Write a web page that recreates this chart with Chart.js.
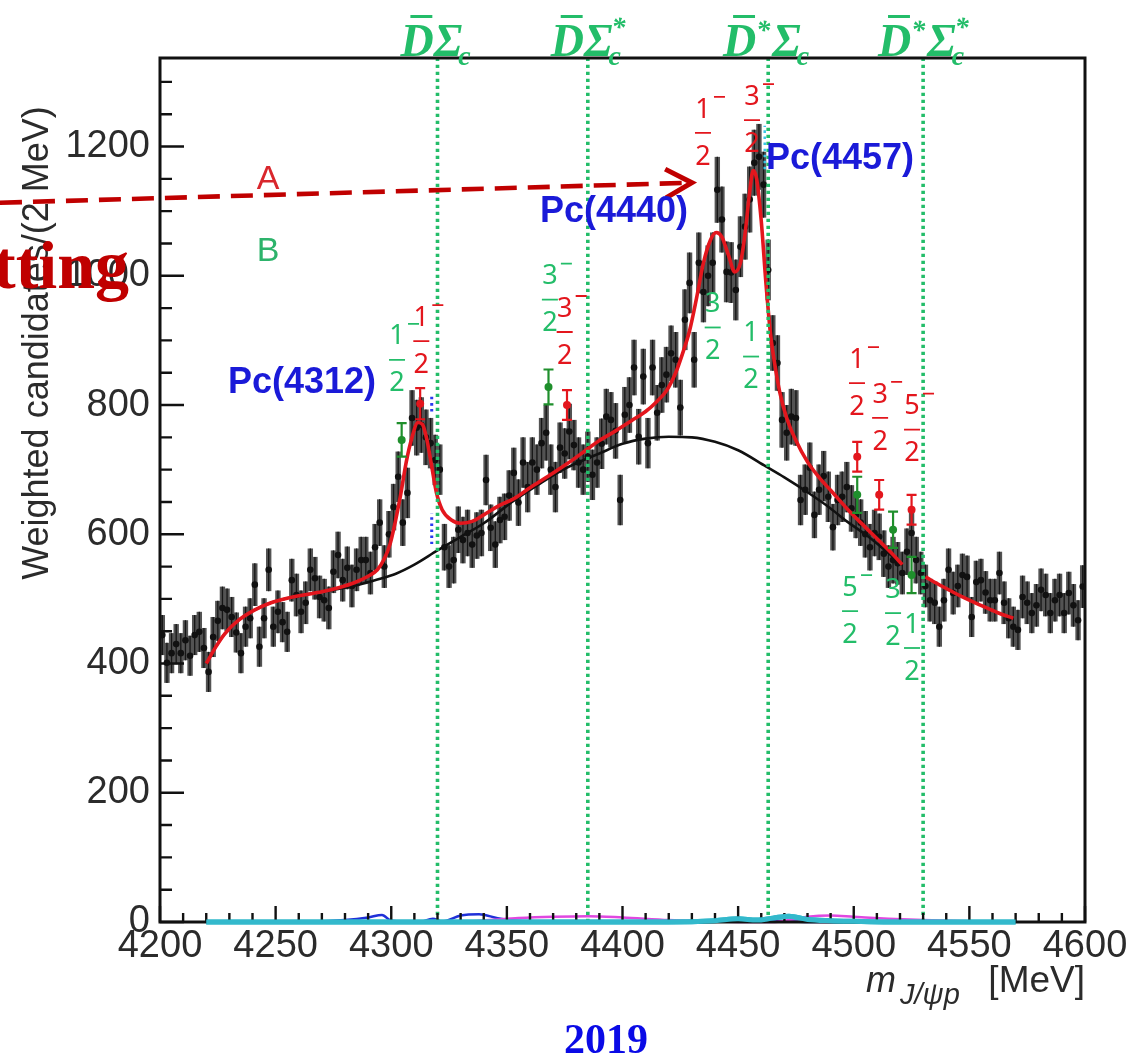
<!DOCTYPE html>
<html lang="en">
<head>
<meta charset="UTF-8">
<title>J/ψp invariant mass – Pc states</title>
<script src="https://cdn.jsdelivr.net/npm/chart.js"></script>
<style>
  html, body { margin: 0; padding: 0; background: #fff; }
  #wrap { position: relative; width: 1137px; height: 1055px; }
</style>
</head>
<body>
<div id="wrap"><canvas id="spectrum" width="1137" height="1055"></canvas></div>
<script>
// 2 MeV bins, 4200 - 4600 MeV
const massBins = Array.from({ length: 200 }, (_, i) => 4201 + 2 * i);

// weighted candidates per bin
const counts = [
  444, 401, 416, 430, 416, 436, 412, 444, 449, 424,
  387, 441, 466, 486, 483, 472, 448, 416, 457, 470,
  522, 426, 470, 545, 457, 480, 464, 449, 529, 506,
  480, 494, 545, 532, 503, 498, 486, 542, 568, 529,
  548, 520, 545, 560, 560, 540, 580, 618, 550, 600,
  642, 689, 618, 664, 780, 765, 769, 750, 741, 715,
  700, 580, 550, 560, 607, 591, 602, 584, 598, 602,
  684, 610, 584, 622, 627, 660, 695, 649, 711, 673,
  711, 700, 741, 757, 700, 673, 734, 725, 759, 738,
  711, 700, 720, 692, 711, 740, 782, 777, 760, 653,
  785, 800, 858, 751, 844, 741, 858, 788, 831, 847,
  880, 870, 796, 932, 989, 870, 1020, 975, 1000, 1020,
  1133, 1087, 1006, 1005, 978, 1045, 1076, 1118, 1175, 1184,
  1141, 1009, 896, 865, 777, 757, 782, 780, 653, 669,
  703, 630, 669, 690, 658, 611, 653, 658, 673, 640,
  630, 618, 600, 580, 602, 596, 570, 550, 560, 555,
  540, 573, 602, 560, 540, 520, 498, 494, 457, 498,
  545, 509, 520, 537, 534, 472, 526, 529, 510, 498,
  498, 540, 494, 470, 457, 452, 503, 494, 478, 490,
  514, 506, 478, 498, 506, 478, 509, 490, 467, 519
];

// statistical uncertainty per bin
const countErr = [
  31, 31, 31, 31, 31, 31, 31, 31, 31, 31,
  31, 31, 31, 33, 33, 31, 31, 31, 31, 31,
  33, 31, 31, 33, 31, 33, 31, 31, 33, 33,
  33, 33, 33, 33, 33, 33, 33, 33, 36, 33,
  33, 33, 33, 36, 36, 33, 36, 36, 33, 36,
  36, 39, 36, 39, 43, 43, 43, 43, 39, 39,
  39, 36, 33, 36, 36, 36, 36, 36, 36, 36,
  39, 36, 36, 36, 36, 39, 39, 36, 39, 39,
  39, 39, 39, 43, 39, 39, 39, 39, 43, 39,
  39, 39, 39, 39, 39, 39, 43, 43, 43, 39,
  43, 43, 43, 43, 43, 39, 43, 43, 43, 43,
  43, 43, 43, 47, 47, 43, 47, 47, 47, 47,
  51, 51, 47, 47, 47, 47, 51, 51, 51, 51,
  51, 47, 43, 43, 43, 43, 43, 43, 39, 39,
  39, 36, 39, 39, 39, 36, 39, 39, 39, 36,
  36, 36, 36, 36, 36, 36, 36, 33, 36, 33,
  33, 36, 36, 36, 33, 33, 33, 33, 31, 33,
  33, 33, 33, 33, 33, 31, 33, 33, 33, 33,
  33, 33, 33, 31, 31, 31, 33, 33, 31, 33,
  33, 33, 31, 33, 33, 31, 33, 33, 31, 33
];

// full fit (red)
const fitMass = [4220, 4224, 4228, 4234, 4241, 4248, 4255, 4262, 4270, 4278,
  4284, 4290, 4294, 4297, 4299.5, 4301.5, 4304, 4306.5, 4309, 4311.5,
  4313.5, 4315.5, 4317.5, 4319.5, 4322, 4326, 4330, 4335, 4340, 4347,
  4353, 4360, 4368, 4376, 4383, 4390, 4397, 4404, 4410, 4415,
  4419, 4423, 4426, 4429, 4432, 4435, 4438, 4440.5, 4443, 4446,
  4448.5, 4451, 4453, 4455, 4456.5, 4458, 4460, 4462, 4464, 4466,
  4468, 4471, 4475, 4480, 4485, 4490, 4497, 4503, 4511, 4516, 4521];
const fitVals = [400, 425, 446, 467, 483, 494, 501, 506, 511, 518,
  525, 535, 545, 562, 585, 615, 660, 712, 750, 773,
  770, 745, 705, 665, 638, 622, 617, 620, 630, 645,
  655, 672, 690, 709, 727, 745, 760, 776, 790, 806,
  822, 850, 880, 915, 965, 1020, 1055, 1067, 1060, 1030,
  1006, 1020, 1065, 1130, 1163, 1150, 1085, 990, 910, 860,
  820, 780, 745, 712, 688, 668, 640, 618, 590, 572, 553];
const fitTailMass = [4531, 4538, 4547, 4555, 4562, 4569];
const fitTailVals = [534, 520, 503, 490, 479, 470];

// background component (black)
const bkgMass = [4220, 4224, 4228, 4234, 4241, 4248, 4255, 4262, 4270, 4278,
  4286, 4294, 4302, 4310, 4320, 4330, 4340, 4353, 4365, 4376,
  4390, 4400, 4410, 4420, 4430, 4440, 4450, 4462, 4470, 4480,
  4490, 4497, 4505, 4512, 4521];
const bkgVals = [400, 425, 446, 467, 483, 494, 501, 506, 511, 516,
  522, 530, 539, 553, 575, 596, 617, 652, 680, 703,
  725, 740, 748, 751, 750, 743, 730, 705, 688, 665,
  640, 620, 600, 580, 553];

// small signal components along the bottom
const compMass = [4220, 4260, 4280, 4290, 4296, 4300, 4312, 4318, 4322, 4330,
  4338, 4346, 4355, 4370, 4385, 4400, 4420, 4440, 4450, 4458,
  4465, 4472, 4480, 4490, 4500, 4515, 4530, 4550, 4570];
const compCyan = [0, 0, 0, 0, 0, 0, 0, 0, 0, 0, 0, 0, 0, 0, 0, 0, 0,
  2, 5, 3, 6, 9, 4, 2, 1, 0, 0, 0, 0];
const compBlue = [0, 0, 3, 7, 11, 2, 0, 5, 1, 10, 12, 6, 2, 1, 0, 0, 1,
  2, 3, 4, 2, 1, 0, 0, 0, 0, 0, 0, 0];
const compMagenta = [0, 0, 0, 0, 0, 0, 0, 0, 0, 0, 2, 4, 6, 8, 9, 7, 3,
  1, 0, 0, 0, 3, 8, 10, 8, 5, 3, 1, 0];

// open-charm thresholds: D̄Σc, D̄Σc*, D̄*Σc, D̄*Σc*
const thresholdMass = [4320, 4385, 4463, 4530];
const thresholdStars = [[false, false], [false, true], [true, false], [true, true]];

// predicted masses, scheme A (red) and scheme B (green)
const predMassA = [4312.5, 4376, 4501.5, 4511, 4525];
const predValA = [802, 800, 720, 661, 638];
const predErrA = [24, 23, 23, 23, 23];
const predMassB = [4304.5, 4368, 4501.5, 4517, 4525];
const predValB = [746, 828, 661, 607, 537];
const predErrB = [26, 27, 28, 28, 28];

// J^P labels: [mass, value at fraction bar, numerator, shows minus]
const spinA = [[4313, 899, '1', true], [4375, 913, '3', true], [4434.8, 1221, '1', true],
  [4456, 1241, '3', true], [4501.4, 834, '1', true], [4511.4, 780, '3', true], [4525.2, 762, '5', true]];
const spinB = [[4302.5, 870, '1', true], [4368.6, 963, '3', true], [4439, 920, '3', false],
  [4455.6, 875, '1', false], [4498.4, 481, '5', true], [4517, 478, '3', false], [4525.2, 424, '1', false]];

// state names: [text, left mass, centre value]
const stateNames = [['Pc(4312)', 4229.4, 834], ['Pc(4440)', 4364.3, 1098], ['Pc(4457)', 4462, 1180]];

const RED = '#e3161d';
const GREEN = '#23bd69';
const DARK_GREEN = '#1f8f2c';
const BLUE = '#1a1ad8';
const DARK_RED = '#c00000';
const TEXT = '#2b2b2b';

const pts = (xs, ys) => xs.map((m, i) => ({ x: m, y: ys[i] }));

function lineSet(label, xs, ys, color, width, order, extra) {
  return Object.assign({
    type: 'line', label, data: pts(xs, ys), borderColor: color, borderWidth: width,
    pointRadius: 0, fill: false, cubicInterpolationMode: 'monotone', order
  }, extra || {});
}

const datasets = [
  lineSet('fit', fitMass, fitVals, RED, 3.6, 1),
  lineSet('fit tail', fitTailMass, fitTailVals, RED, 3.6, 1),
  lineSet('background', bkgMass, bkgVals, '#111', 2.6, 2),
  {
    type: 'scatter', label: 'data', data: pts(massBins, counts),
    pointRadius: 3.3, backgroundColor: '#111', borderWidth: 0, order: 3
  },
  lineSet('cyan', compMass, compCyan, '#33b9cc', 5, 4, { clip: false }),
  lineSet('magenta', compMass, compMagenta, '#e048e0', 2.5, 4, { clip: false }),
  lineSet('blue', compMass, compBlue, '#2030d8', 2.5, 4, { clip: false }),
  lineSet('blue marks', [4317.5, 4317.5], [790, 818], '#2a3af0', 3, 0, { borderDash: [2.5, 3.5] }),
  lineSet('blue marks 2', [4317.5, 4317.5], [585, 632], '#2a3af0', 3, 0, { borderDash: [2.5, 3.5] }),
  lineSet('cyan marks', [4461.5, 4461.5], [1165, 1232], '#39c6e6', 2.5, 0, { borderDash: [2.5, 3.5] })
];
thresholdMass.forEach((m, i) => {
  datasets.push(lineSet('threshold ' + i, [m, m], [0, 1337], GREEN, 3.6, 0,
    { borderDash: [3.2, 3.8], cubicInterpolationMode: 'default' }));
});

function drawErrorPoints(ctx, x, y, ms, vs, es, color) {
  ctx.strokeStyle = color;
  ctx.fillStyle = color;
  ctx.lineWidth = 2.2;
  ms.forEach((m, i) => {
    const px = x.getPixelForValue(m);
    const top = y.getPixelForValue(vs[i] + es[i]);
    const bot = y.getPixelForValue(vs[i] - es[i]);
    ctx.beginPath();
    ctx.moveTo(px, top); ctx.lineTo(px, bot);
    ctx.moveTo(px - 5, top); ctx.lineTo(px + 5, top);
    ctx.moveTo(px - 5, bot); ctx.lineTo(px + 5, bot);
    ctx.stroke();
    ctx.beginPath();
    ctx.arc(px, y.getPixelForValue(vs[i]), 4, 0, Math.PI * 2);
    ctx.fill();
  });
}

function drawFraction(ctx, cx, cy, num, minus, color) {
  ctx.fillStyle = color;
  ctx.strokeStyle = color;
  ctx.font = '27px "Noto Sans", "DejaVu Sans", sans-serif';
  ctx.textAlign = 'center';
  ctx.textBaseline = 'middle';
  ctx.fillText(num, cx, cy - 23);
  ctx.fillText('2', cx, cy + 24);
  ctx.lineWidth = 1.8;
  ctx.beginPath();
  ctx.moveTo(cx - 8, cy); ctx.lineTo(cx + 8, cy);
  if (minus) { ctx.moveTo(cx + 11, cy - 36); ctx.lineTo(cx + 22, cy - 36); }
  ctx.stroke();
}

function drawThresholdName(ctx, cx, base, dStar, sStar) {
  const big = 'italic bold 46px "Liberation Serif", serif';
  const small = 'italic bold 28px "Liberation Serif", serif';
  ctx.font = big;
  const wD = ctx.measureText('D').width;
  const wS = ctx.measureText('Σ').width;
  ctx.font = small;
  const wStar = ctx.measureText('*').width;
  const wc = ctx.measureText('c').width;
  let px = cx - (wD + (dStar ? wStar + 2 : 0) + wS + wc) / 2;
  ctx.fillStyle = GREEN;
  ctx.textAlign = 'left';
  ctx.textBaseline = 'alphabetic';
  ctx.font = big;
  ctx.fillText('D', px, base);
  ctx.fillRect(px + wD * 0.3, base - 41, wD * 0.66, 3);
  px += wD;
  if (dStar) {
    ctx.font = small;
    ctx.fillText('*', px, base - 17);
    px += wStar + 2;
  }
  ctx.font = big;
  ctx.fillText('Σ', px, base);
  px += wS;
  ctx.font = small;
  ctx.fillText('c', px - 4, base + 9);
  if (sStar) ctx.fillText('*', px - 1, base - 20);
}

const decor = {
  id: 'spectrumDecor',
  beforeDatasetsDraw(chart) {
    const { ctx, chartArea: a, scales: { x, y } } = chart;
    ctx.save();
    ctx.beginPath();
    ctx.rect(a.left, a.top, a.right - a.left, a.bottom - a.top);
    ctx.clip();
    // grey error bars of the data
    counts.forEach((v, i) => {
      const px = x.getPixelForValue(massBins[i]);
      const y1 = y.getPixelForValue(v + countErr[i]);
      const y2 = y.getPixelForValue(v - countErr[i]);
      ctx.fillStyle = '#535353';
      ctx.fillRect(px - 2.7, y1, 5.4, y2 - y1);
      ctx.strokeStyle = '#161616';
      ctx.lineWidth = 1.3;
      ctx.beginPath();
      ctx.moveTo(px, y1); ctx.lineTo(px, y2);
      ctx.stroke();
    });
    ctx.restore();
  },
  afterDatasetsDraw(chart) {
    const { ctx, chartArea: a, scales: { x, y } } = chart;
    ctx.save();
    // frame and inward ticks
    ctx.strokeStyle = '#111';
    ctx.lineWidth = 3;
    ctx.strokeRect(a.left, a.top, a.right - a.left, a.bottom - a.top);
    ctx.lineWidth = 2.4;
    ctx.beginPath();
    for (let v = 0; v <= 1300; v += 50) {
      const py = y.getPixelForValue(v);
      ctx.moveTo(a.left, py);
      ctx.lineTo(a.left + (v % 200 === 0 ? 24 : 12), py);
    }
    for (let m = 4200; m <= 4600; m += 10) {
      const px = x.getPixelForValue(m);
      ctx.moveTo(px, a.bottom);
      ctx.lineTo(px, a.bottom - (m % 50 === 0 ? 16 : 9));
    }
    ctx.stroke();
    // redraw the cyan component over the axis line
    const cyanMeta = chart.getDatasetMeta(4);
    if (cyanMeta && cyanMeta.dataset) cyanMeta.dataset.draw(ctx, a);

    drawErrorPoints(ctx, x, y, predMassB, predValB, predErrB, DARK_GREEN);
    drawErrorPoints(ctx, x, y, predMassA, predValA, predErrA, RED);
    ctx.restore();
  },
  afterDraw(chart) {
    const { ctx, scales: { x, y } } = chart;
    ctx.save();

    // y axis title
    ctx.save();
    ctx.translate(38, 343);
    ctx.rotate(-Math.PI / 2);
    ctx.font = '36px "Liberation Sans", Arial, sans-serif';
    ctx.fillStyle = TEXT;
    ctx.textAlign = 'center';
    ctx.textBaseline = 'middle';
    ctx.fillText('Weighted candidates/(2 MeV)', 0, 0);
    ctx.restore();

    // x axis title
    ctx.fillStyle = TEXT;
    ctx.textBaseline = 'alphabetic';
    ctx.textAlign = 'left';
    ctx.font = 'italic 36px "Liberation Sans", Arial, sans-serif';
    ctx.fillText('m', 866, 992);
    ctx.font = 'italic 29px "Liberation Sans", Arial, sans-serif';
    ctx.fillText('J/ψp', 900, 1004);
    ctx.textAlign = 'right';
    ctx.font = '37px "Liberation Sans", Arial, sans-serif';
    ctx.fillText('[MeV]', 1085, 992);

    // threshold names above the frame
    thresholdMass.forEach((m, i) => {
      drawThresholdName(ctx, x.getPixelForValue(m), 56, thresholdStars[i][0], thresholdStars[i][1]);
    });

    // scheme labels
    ctx.font = '34px "Liberation Sans", Arial, sans-serif';
    ctx.textAlign = 'center';
    ctx.textBaseline = 'middle';
    ctx.fillStyle = '#d9262c';
    ctx.fillText('A', x.getPixelForValue(4246.7), y.getPixelForValue(1149));
    ctx.fillStyle = '#2db36b';
    ctx.fillText('B', x.getPixelForValue(4246.7), y.getPixelForValue(1037));

    // dashed arrow
    const x0 = x.getPixelForValue(4130.8), y0 = y.getPixelForValue(1113);
    const x1 = x.getPixelForValue(4430), y1 = y.getPixelForValue(1144);
    const ang = Math.atan2(y1 - y0, x1 - x0);
    ctx.strokeStyle = DARK_RED;
    ctx.lineWidth = 4.6;
    ctx.setLineDash([22, 11]);
    ctx.beginPath();
    ctx.moveTo(x0, y0);
    ctx.lineTo(x1 - 8 * Math.cos(ang), y1 - 8 * Math.sin(ang));
    ctx.stroke();
    ctx.setLineDash([]);
    ctx.lineWidth = 5;
    ctx.beginPath();
    ctx.moveTo(x1 - 30 * Math.cos(ang - 0.5), y1 - 30 * Math.sin(ang - 0.5));
    ctx.lineTo(x1, y1);
    ctx.lineTo(x1 - 30 * Math.cos(ang + 0.5), y1 - 30 * Math.sin(ang + 0.5));
    ctx.stroke();

    // "Fitting" banner, cut by the left edge
    ctx.font = 'bold 68px "Liberation Serif", serif';
    ctx.fillStyle = DARK_RED;
    ctx.textAlign = 'left';
    ctx.textBaseline = 'alphabetic';
    ctx.fillText('tting', -7, 288);

    // J^P fractions
    spinB.forEach(([m, v, n, mi]) => drawFraction(ctx, x.getPixelForValue(m), y.getPixelForValue(v), n, mi, GREEN));
    spinA.forEach(([m, v, n, mi]) => drawFraction(ctx, x.getPixelForValue(m), y.getPixelForValue(v), n, mi, RED));

    // state names
    ctx.font = 'bold 36px "Liberation Sans", Arial, sans-serif';
    ctx.fillStyle = BLUE;
    ctx.textAlign = 'left';
    ctx.textBaseline = 'middle';
    stateNames.forEach(([t, m, v]) => ctx.fillText(t, x.getPixelForValue(m), y.getPixelForValue(v)));

    // year
    ctx.font = 'bold 42px "Liberation Serif", serif';
    ctx.fillStyle = '#0a0ae6';
    ctx.textAlign = 'center';
    ctx.textBaseline = 'alphabetic';
    ctx.fillText('2019', 606, 1053);

    ctx.restore();
  }
};

const tickFont = { family: '"Liberation Sans", Arial, sans-serif', size: 38 };

new Chart(document.getElementById('spectrum'), {
  type: 'scatter',
  data: { datasets },
  options: {
    responsive: false,
    animation: false,
    events: [],
    layout: { padding: { top: 58, right: 52, left: 0, bottom: 0 } },
    plugins: { legend: { display: false }, tooltip: { enabled: false } },
    scales: {
      x: {
        type: 'linear', min: 4200, max: 4600,
        afterFit(scale) { scale.height = 133; },
        grid: { display: false, drawTicks: false },
        border: { display: false },
        ticks: {
          stepSize: 50, padding: 2, color: TEXT, font: tickFont, maxRotation: 0, autoSkip: false,
          callback: (v) => String(v)
        }
      },
      y: {
        type: 'linear', min: 0, max: 1337,
        afterFit(scale) { scale.width = 160; },
        afterBuildTicks(scale) { scale.ticks = scale.ticks.filter(t => t.value % 200 === 0); },
        grid: { display: false, drawTicks: false },
        border: { display: false },
        ticks: { stepSize: 200, padding: 10, color: TEXT, font: tickFont, callback: (v) => String(v) }
      }
    }
  },
  plugins: [decor]
});
</script>
</body>
</html>
